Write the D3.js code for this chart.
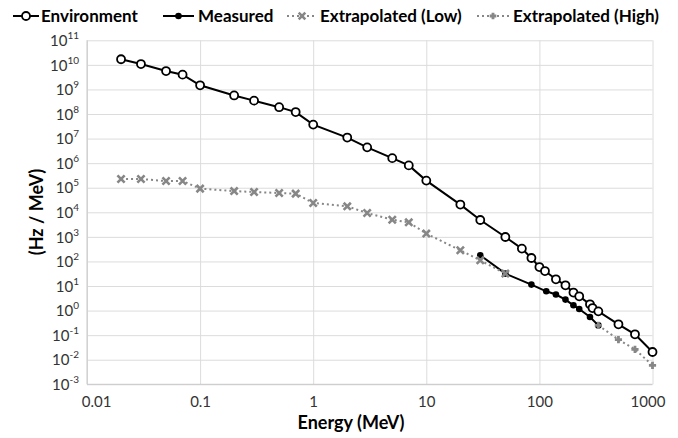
<!DOCTYPE html>
<html><head><meta charset="utf-8">
<script src="https://cdn.jsdelivr.net/npm/d3@7"></script>
<style>
html,body{margin:0;padding:0;background:#fff;}
svg{display:block;}
</style></head>
<body>
<svg id="chart" width="678" height="438"></svg>
<script>
// ---- data ----
const envE = [0.02,0.03,0.05,0.07,0.1,0.2,0.3,0.5,0.7,1,2,3,5,7,10,20,30,50,70,85,100,112,140,170,200,225,280,295,332,500,700,1000];
const envV = [1.69e10,1.08e10,5.6e9,4.0e9,1.47e9,5.7e8,3.5e8,1.9e8,1.2e8,3.7e7,1.1e7,4.4e6,1.6e6,8.1e5,1.95e5,2.06e4,4.85e3,986,333,138,59,40.7,18.8,10.7,5.4,3.8,1.8,1.27,0.93,0.276,0.108,0.0206];
const measE = [30,50,85,115,140,170,200,225,280,332];
const measV = [178,32,11.4,6.1,4.5,2.8,1.64,1.16,0.55,0.25];
const lowE = [0.02,0.03,0.05,0.07,0.1,0.2,0.3,0.5,0.7,1,2,3,5,7,10,20,30,50];
const lowV = [2.26e5,2.26e5,1.87e5,1.87e5,9.2e4,7.3e4,6.7e4,6.1e4,5.75e4,2.4e4,1.75e4,9.4e3,5.0e3,3.9e3,1.36e3,284,111,32];
const highE = [332,500,700,1000];
const highV = [0.25,0.066,0.0265,0.0059];
const xTicks = [0.01,0.1,1,10,100,1000];
const xTickLabels = ["0.01","0.1","1","10","100","1000"];
const yExponents = [-3,-2,-1,0,1,2,3,4,5,6,7,8,9,10,11];
const seriesNames = ["Environment","Measured","Extrapolated (Low)","Extrapolated (High)"];

// ---- layout ----
const svg = d3.select("#chart");
const L = 87, R = 652.5, T = 40.3, B = 384.3;
const x = d3.scaleLog().domain([0.01,1000]).range([L,R]);
const y = d3.scaleLog().domain([1e-3,1e11]).range([B,T]);
const FONT = "Lato, 'Open Sans', sans-serif";
const GREY = "#878787";

// gridlines
svg.append("g").attr("transform",`translate(0,${B})`)
  .call(d3.axisBottom(x).tickValues(xTicks).tickSize(-(B-T)).tickFormat(""))
  .call(g=>{g.select(".domain").remove(); g.selectAll("line").attr("stroke","#dcdcdc").attr("stroke-width",1);});
svg.append("g").attr("transform",`translate(${L},0)`)
  .call(d3.axisLeft(y).tickValues(yExponents.map(e=>Math.pow(10,e))).tickSize(-(R-L)).tickFormat(""))
  .call(g=>{g.select(".domain").remove(); g.selectAll("line").attr("stroke","#dcdcdc").attr("stroke-width",1);});
// axis lines
svg.append("line").attr("x1",L).attr("x2",L).attr("y1",T).attr("y2",B).attr("stroke","#c8c8c8");
svg.append("line").attr("x1",L).attr("x2",R).attr("y1",B).attr("y2",B).attr("stroke","#c8c8c8");

// x tick labels
const xAx = svg.append("g").attr("transform",`translate(0,${B})`)
  .call(d3.axisBottom(x).tickValues(xTicks).tickSize(0).tickPadding(12).tickFormat((d,i)=>xTickLabels[i]));
xAx.select(".domain").remove();
xAx.selectAll("text").attr("font-family",FONT).attr("font-size",15).attr("fill","#333")
  .attr("dx",(d,i)=> i===0 ? 9 : (i===xTicks.length-1 ? -5 : 0));

// y tick labels
const yAx = svg.append("g").attr("transform",`translate(${L},0)`)
  .call(d3.axisLeft(y).tickValues(yExponents.map(e=>Math.pow(10,e))).tickSize(0).tickPadding(8).tickFormat(""));
yAx.select(".domain").remove();
yAx.selectAll(".tick text").each(function(d,i){
  const t = d3.select(this).attr("font-family",FONT).attr("font-size",15).attr("fill","#333").attr("dy","0.35em");
  t.append("tspan").text("10");
  t.append("tspan").attr("font-size",10).attr("dy","-0.7em").text(yExponents[i]);
});

// titles
svg.append("text").attr("x",351).attr("y",429).attr("text-anchor","middle")
  .attr("font-family",FONT).attr("font-weight","bold").attr("font-size",18).attr("fill","#000").text("Energy (MeV)");
svg.append("text").attr("transform","translate(43,212) rotate(-90)").attr("text-anchor","middle")
  .attr("font-family",FONT).attr("font-weight","bold").attr("font-size",18).attr("fill","#000").text("(Hz / MeV)");

// series
const line = d3.line().x(d=>x(d[0])).y(d=>y(d[1]));
const env = envE.map((e,i)=>[e,envV[i]]);
const meas = measE.map((e,i)=>[e,measV[i]]);
const low = lowE.map((e,i)=>[e,lowV[i]]);
const high = highE.map((e,i)=>[e,highV[i]]);

function drawX(g,cx,cy,s){
  g.append("path").attr("d",`M${cx-s},${cy-s}L${cx+s},${cy+s}M${cx-s},${cy+s}L${cx+s},${cy-s}`)
   .attr("stroke",GREY).attr("stroke-width",2.6).attr("fill","none");
}
function drawPlus(g,cx,cy,s){
  g.append("path").attr("d",`M${cx-s},${cy}L${cx+s},${cy}M${cx},${cy-s}L${cx},${cy+s}`)
   .attr("stroke",GREY).attr("stroke-width",2.8).attr("fill","none");
}

// Environment
svg.append("path").datum(env).attr("d",line).attr("fill","none").attr("stroke","#000").attr("stroke-width",2);
svg.append("g").selectAll("circle").data(env).join("circle")
  .attr("cx",d=>x(d[0])).attr("cy",d=>y(d[1])).attr("r",4).attr("fill","#fff").attr("stroke","#000").attr("stroke-width",1.8);
// Measured
svg.append("path").datum(meas).attr("d",line).attr("fill","none").attr("stroke","#000").attr("stroke-width",2);
svg.append("g").selectAll("circle").data(meas).join("circle")
  .attr("cx",d=>x(d[0])).attr("cy",d=>y(d[1])).attr("r",3.3).attr("fill","#000");
// Low
svg.append("path").datum(low).attr("d",line).attr("fill","none").attr("stroke",GREY).attr("stroke-width",2).attr("stroke-dasharray","2,3");
const lowG = svg.append("g");
low.forEach(d=>drawX(lowG,x(d[0]),y(d[1]),3.6));
// High
svg.append("path").datum(high).attr("d",line).attr("fill","none").attr("stroke",GREY).attr("stroke-width",2).attr("stroke-dasharray","2,3");
const highG = svg.append("g");
high.forEach(d=>drawPlus(highG,x(d[0]),y(d[1]),3.6));

// legend
const leg = svg.append("g");
const LY = 16;
const items = [
  {x0:13,x1:39,tx:41,type:"env"},
  {x0:163,x1:194,tx:198,type:"meas"},
  {x0:287,x1:317,tx:320,type:"low"},
  {x0:477,x1:509,tx:513,type:"high"}
];
items.forEach((it,i)=>{
  const cx=(it.x0+it.x1)/2;
  if(it.type==="env"||it.type==="meas"){
    leg.append("line").attr("x1",it.x0).attr("x2",it.x1).attr("y1",LY).attr("y2",LY).attr("stroke","#000").attr("stroke-width",2);
    if(it.type==="env") leg.append("circle").attr("cx",cx).attr("cy",LY).attr("r",4).attr("fill","#fff").attr("stroke","#000").attr("stroke-width",1.8);
    else leg.append("circle").attr("cx",cx).attr("cy",LY).attr("r",3.3).attr("fill","#000");
  } else {
    leg.append("line").attr("x1",it.x0).attr("x2",it.x1).attr("y1",LY).attr("y2",LY).attr("stroke",GREY).attr("stroke-width",2).attr("stroke-dasharray","2,3");
    if(it.type==="low") drawX(leg,cx,LY,3.3); else drawPlus(leg,cx,LY,3.3);
  }
  leg.append("text").attr("x",it.tx).attr("y",LY).attr("dy","0.36em")
    .attr("font-family",FONT).attr("font-weight","bold").attr("font-size",17).attr("fill","#000").text(seriesNames[i]);
});
</script>
</body></html>
